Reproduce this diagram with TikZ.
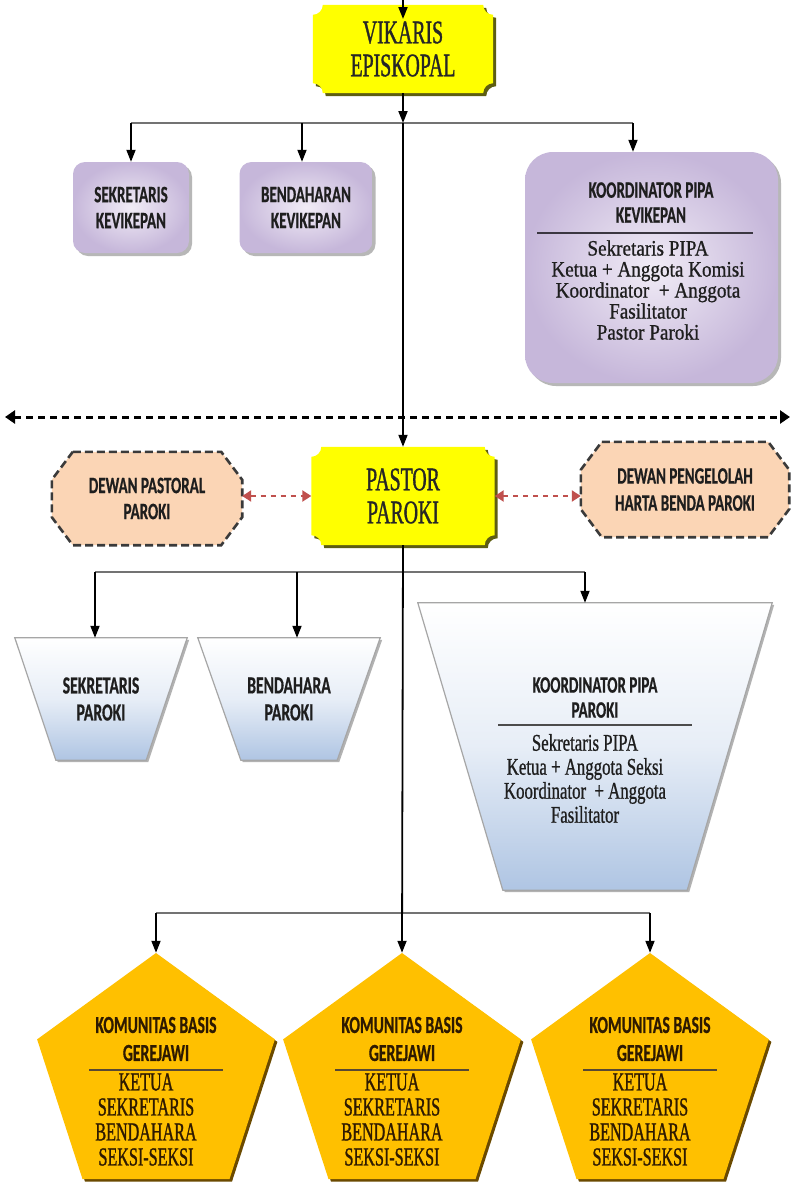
\documentclass[tikz,border=0pt]{standalone}
\usepackage{fontspec}
\usetikzlibrary{calc,shapes.geometric,shadows,arrows.meta,backgrounds}
\newfontfamily\fhead[FakeStretch=0.64,FakeBold=0.6]{Carlito}
\newfontfamily\fserA[FakeStretch=0.87,FakeBold=0.8]{Liberation Serif}
\newfontfamily\fserB[FakeStretch=0.7,FakeBold=0.8]{Liberation Serif}
\newfontfamily\fserC[FakeStretch=0.62,FakeBold=1]{Liberation Serif}
\newfontfamily\fyel[FakeStretch=0.6,FakeBold=1]{Liberation Serif}
\definecolor{yel}{HTML}{FFFF00}
\definecolor{yelsh}{HTML}{5E5E12}
\definecolor{purpin}{HTML}{F1ECF6}
\definecolor{purpout}{HTML}{C6B7DA}
\definecolor{peach}{HTML}{FBD5B5}
\definecolor{dashc}{HTML}{3A3A3A}
\definecolor{redarr}{HTML}{C0504D}
\definecolor{trapb}{HTML}{AFC5E3}
\definecolor{gold}{HTML}{FFC000}
\definecolor{goldsh}{HTML}{6B4A00}
\definecolor{txt}{HTML}{1E1E1E}
\definecolor{brn}{HTML}{2E1A00}
\newcommand\bevelshape[1]{%
 \path[fill=yel, drop shadow={shadow xshift=3pt, shadow yshift=-3pt, fill=yelsh, opacity=1}]
 ($(#1.north west)+(0,10)$) .. controls ($(#1.north west)+(5.5,10)$) and ($(#1.north west)+(10,5.5)$) .. ($(#1.north west)+(10,0)$)
 -- ($(#1.north east)+(-10,0)$) .. controls ($(#1.north east)+(-10,5.5)$) and ($(#1.north east)+(-5.5,10)$) .. ($(#1.north east)+(0,10)$)
 -- ($(#1.south east)+(0,-10)$) .. controls ($(#1.south east)+(-5.5,-10)$) and ($(#1.south east)+(-10,-5.5)$) .. ($(#1.south east)+(-10,0)$)
 -- ($(#1.south west)+(10,0)$) .. controls ($(#1.south west)+(10,-5.5)$) and ($(#1.south west)+(5.5,-10)$) .. ($(#1.south west)+(0,-10)$)
 -- cycle;}
\newcommand\chamshape[1]{%
 \path[fill=peach, draw=dashc, line width=2.6pt, dash pattern=on 8pt off 4pt]
 ($(#1.north west)+(21,0)$) -- ($(#1.north east)+(-21,0)$) -- ($(#1.north east)+(0,28)$) -- ($(#1.south east)+(0,-28)$) -- ($(#1.south east)+(-21,0)$) -- ($(#1.south west)+(21,0)$) -- ($(#1.south west)+(0,-28)$) -- ($(#1.north west)+(0,28)$) -- cycle;}
\newcommand\trapshape[2]{%
 \path[draw=black!35, line width=1.2pt, top color=white, bottom color=trapb, middle color=trapb!30, drop shadow={shadow xshift=2pt, shadow yshift=-2pt, fill=black!30, opacity=1}]
 (#1.north west) -- (#1.north east) -- ($(#1.south east)+(-#2,0)$) -- ($(#1.south west)+(#2,0)$) -- cycle;}
\tikzset{
 conn/.style={line width=1.8pt, black},
 arr/.style={conn, -{Triangle[length=12pt,width=9pt]}},
 barline/.style={line width=2.2pt, black!55},
 frame/.style={inner sep=0pt, draw=none},
 yeltext/.style={font={\fyel\fontsize{33}{33}\selectfont}, text=black!85, align=center},
 headtext/.style={font={\fhead\bfseries\fontsize{23.5}{26}\selectfont}, text=txt, align=center},
 purp/.style={frame, inner color=purpin, outer color=purpout, drop shadow={shadow xshift=3pt, shadow yshift=-3pt, fill=black!35, opacity=0.8}},
 pent/.style={regular polygon, regular polygon sides=5, minimum size=250pt, inner sep=0pt, fill=gold, drop shadow={shadow xshift=2.5pt, shadow yshift=-2.5pt, fill=goldsh, opacity=1}},
 penthead/.style={font={\fhead\bfseries\fontsize{24.5}{28}\selectfont}, text=brn, align=center},
 pentlist/.style={font={\fserC\fontsize{26}{25}\selectfont}, text=brn, align=center},
 dashline/.style={line width=3pt, black, dash pattern=on 7pt off 5pt, {Triangle[length=10pt,width=13pt]}-{Triangle[length=10pt,width=13pt]}},
 redline/.style={line width=2.6pt, redarr, dash pattern=on 5pt off 5pt, {Triangle[length=9pt,width=11pt]}-{Triangle[length=9pt,width=11pt]}},
}
\begin{document}
\begin{tikzpicture}[x=1pt, y=-1pt]
\useasboundingbox (0,0) rectangle (794,1184);
% ---- nodes (frames with text)
\node[frame, minimum width=180, minimum height=88, yeltext] (vik) at (403,49) {VIKARIS\\EPISKOPAL};
\node[purp, rounded corners=12, minimum width=116, minimum height=91, headtext] (sk) at (131,207.5) {SEKRETARIS\\KEVIKEPAN};
\node[purp, rounded corners=12, minimum width=133, minimum height=91, headtext] (bk) at (306,207.5) {BENDAHARAN\\KEVIKEPAN};
\node[purp, rounded corners=28, minimum width=253, minimum height=231] (kk) at (651.5,267.5) {};
\node[headtext, font={\fhead\bfseries\fontsize{23.5}{25}\selectfont}] (kkh) at (651,202.5) {KOORDINATOR PIPA\\KEVIKEPAN};
\node[font={\fserA\fontsize{22}{21}\selectfont\lineskiplimit=-50pt}, text=txt, align=center] (kkl) at (648,290) {Sekretaris PIPA\\Ketua + Anggota Komisi\\Koordinator~ + Anggota\\Fasilitator\\Pastor Paroki};
\draw[line width=2pt, black!70!purpout] (537,233) -- (753,233);

\node[frame, minimum width=183, minimum height=98, yeltext] (pp) at (403,496) {PASTOR\\PAROKI};
\node[frame, minimum width=190, minimum height=93, headtext, font={\fhead\bfseries\fontsize{23.5}{26}\selectfont}] (dp) at (147,498.5) {DEWAN PASTORAL\\PAROKI};
\node[frame, minimum width=208, minimum height=95, headtext, font={\fhead\bfseries\fontsize{23.5}{27}\selectfont}] (dh) at (685,489.5) {DEWAN PENGELOLAH\\HARTA BENDA PAROKI};

\node[frame, minimum width=172, minimum height=122, headtext, font={\fhead\bfseries\fontsize{24.5}{27}\selectfont}] (sp) at (101,699) {SEKRETARIS\\PAROKI};
\node[frame, minimum width=182, minimum height=122, headtext, font={\fhead\bfseries\fontsize{24.5}{27}\selectfont}] (bp) at (289,699) {BENDAHARA\\PAROKI};
\node[frame, minimum width=354, minimum height=287] (kp) at (595,746.5) {};
\node[headtext, font={\fhead\bfseries\fontsize{23.5}{25}\selectfont}] (kph) at (595,697.5) {KOORDINATOR PIPA\\PAROKI};
\node[font={\fserB\fontsize{24}{24}\selectfont\lineskiplimit=-50pt}, text=txt, align=center] (kpl) at (585,778.5) {Sekretaris PIPA\\Ketua + Anggota Seksi\\Koordinator~ + Anggota\\Fasilitator};
\draw[line width=2pt, black!70] (498,725) -- (692,725);

% ---- background shapes
\begin{scope}[on background layer]
\fill[white] (0,0) rectangle (794,1184);
\bevelshape{vik}
\bevelshape{pp}
\chamshape{dp}
\chamshape{dh}
\trapshape{sp}{41}
\trapshape{bp}{43}
\trapshape{kp}{85}
\end{scope}

% ---- pentagons
\foreach \n/\cx in {k1/156, k2/402, k3/650}{
 \node[pent] (\n) at (\cx,1078) {};
 \node[penthead] (\n h) at (\cx,1039) {KOMUNITAS BASIS\\GEREJAWI};
 \draw[line width=2.4pt, brn!80] (\cx-67,1070) -- (\cx+67,1070);
 \node[pentlist] (\n l) at (\cx-10,1119.5) {KETUA\\SEKRETARIS\\BENDAHARA\\SEKSI-SEKSI};
}

% ---- connectors
\coordinate (top) at (403,0);
\coordinate (topt) at (403,19);
\draw[arr] (top) -- (topt);
\coordinate (b0) at (403,123);
\coordinate (b1) at (131,123);
\coordinate (b2) at (302,123);
\coordinate (b3) at (633,123);
\draw[barline] (b1) -- (b3);
\draw[arr] (vik.south) -- (b0);
\draw[arr] (b1) -- (sk.north);
\draw[arr] (b2) -- (b2 |- bk.north);
\draw[arr] (b3) -- (b3 |- kk.north);
\draw[arr] (b0) -- (pp.north);

\coordinate (dl) at (5,417);
\coordinate (dr) at (790,417);
\draw[dashline] (dl) -- (dr);

\draw[redline] (dp.east |- pp.west) -- (pp.west);
\draw[redline] (pp.east) -- (pp.east -| dh.west);

\coordinate (c1) at (95,572);
\coordinate (c2) at (297,572);
\coordinate (c3) at (585,572);
\draw[barline] (c1) -- (c3);
\draw[arr] (c1) -- (c1 |- sp.north);
\draw[arr] (c2) -- (c2 |- bp.north);
\draw[arr] (c3) -- (c3 |- kp.north);

\coordinate (d1) at (156,913);
\coordinate (d3) at (650,913);
\draw[barline] (d1) -- (d3);
\draw[arr] (pp.south) -- (k2.corner 1);
\draw[arr] (d1) -- (k1.corner 1);
\draw[arr] (d3) -- (k3.corner 1);
\end{tikzpicture}
\end{document}
